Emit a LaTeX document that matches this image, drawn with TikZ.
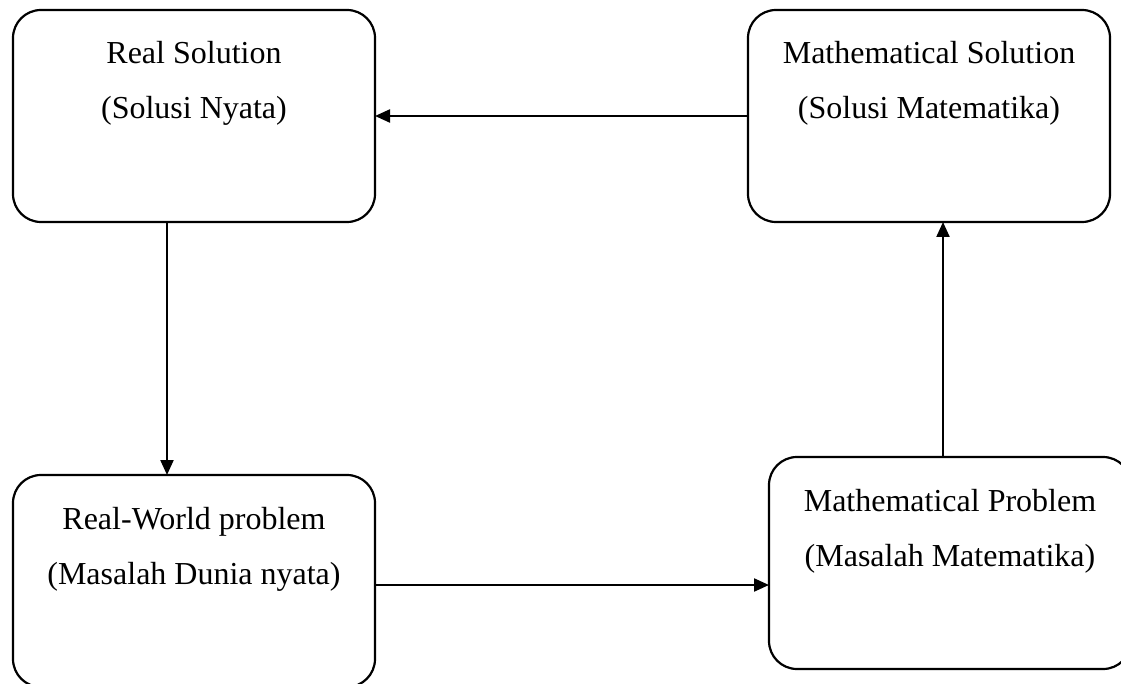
\documentclass[tikz,border=0pt]{standalone}
\usepackage{fontspec}
\setmainfont{Liberation Serif}
\usetikzlibrary{arrows.meta}
\begin{document}
\begin{tikzpicture}[x=1pt,y=-1pt,
  box/.style={draw,line width=2.2pt,rounded corners=28pt,minimum width=362pt,minimum height=212pt,inner sep=0pt,outer sep=0pt},
  lbl/.style={font=\fontsize{32}{55}\selectfont,align=center,anchor=base,inner sep=0pt},
  conn/.style={line width=2.2pt,-{Triangle[length=15pt,width=13pt]}}]
\useasboundingbox (0,0) rectangle (1121,684);
\clip (0,0) rectangle (1121,684);
\node[box] (rs) at (194,116) {};
\node[box] (ms) at (929,116) {};
\node[box] (rw) at (194,581) {};
\node[box] (mp) at (950,563) {};
\node[lbl] (t1) at (194,119) {Real Solution\\(Solusi Nyata)};
\node[lbl] (t2) at (929,119) {Mathematical Solution\\(Solusi Matematika)};
\node[lbl] (t3) at (194,584) {Real-World problem\\(Masalah Dunia nyata)};
\node[lbl] (t4) at (950,566) {Mathematical Problem\\(Masalah Matematika)};
\coordinate (xa) at (167,0);
\coordinate (xb) at (943,0);
\coordinate (yb) at (0,585);
\draw[conn] (ms.west) -- (rs.east);
\draw[conn] (rs.south -| xa) -- (rw.north -| xa);
\draw[conn] (rw.east |- yb) -- (mp.west |- yb);
\draw[conn] (mp.north -| xb) -- (ms.south -| xb);
\end{tikzpicture}
\end{document}
